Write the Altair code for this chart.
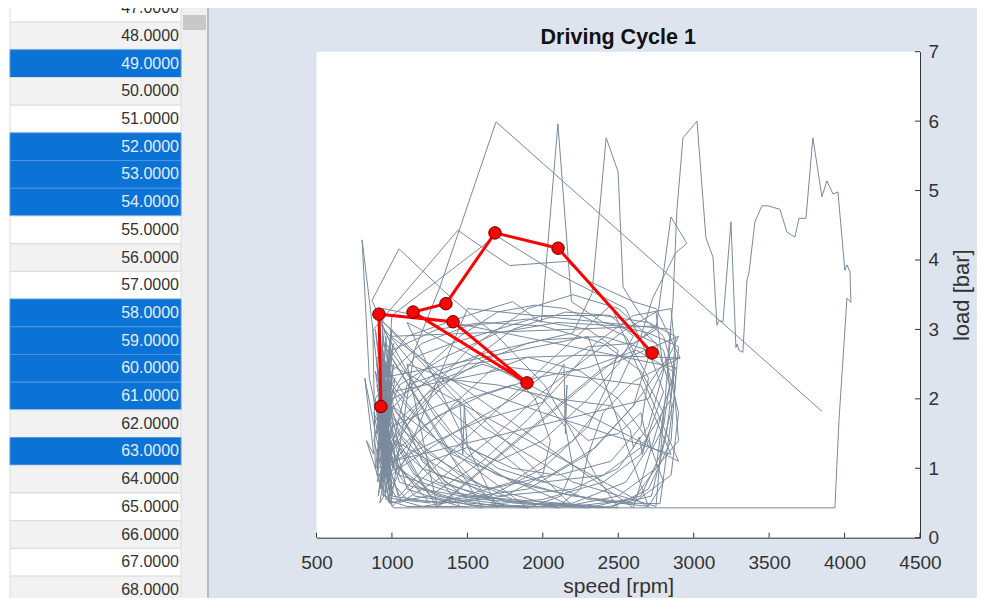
import altair as alt
import pandas as pd

# ---------------- data ----------------
table_rows = list(range(47, 69))
selected_rows = [49, 52, 53, 54, 58, 59, 60, 61, 63]

tick_speed = [500, 1000, 1500, 2000, 2500, 3000, 3500, 4000, 4500]
tick_load = [0, 1, 2, 3, 4, 5, 6, 7]

chart_title = "Driving Cycle 1"

# selected operating points (red)
red_speed = [927, 914, 1405, 1895, 1140, 1358, 1683, 2101, 2724]
red_load = [1.89, 3.22, 3.11, 2.23, 3.25, 3.37, 4.39, 4.17, 2.66]

# driving cycle trace (speed rpm, load bar)
trip_01 = [(960,0.6),(1010,0.43),(2500,0.43),(3936,0.43),(3963,1.69),(4016,3.45),(4042,3.39),(4036,3.83),
           (4016,3.93),(4002,3.85),(3956,4.98),(3923,4.95),(3883,5.14),(3850,4.91),(3790,5.76),(3744,4.60),
           (3698,4.60),(3671,4.33),(3618,4.40),(3572,4.73),(3492,4.78),(3452,4.78),(3406,4.55),(3366,3.81),
           (3353,3.71),(3326,2.67),(3300,2.70),(3287,2.79),(3280,2.74),(3247,4.55),(3194,3.11),(3167,3.13),
           (3154,3.06),(3128,4.04),(3081,4.32),(3022,6.00),(2929,5.76),(2889,4.72),(2863,3.42),(2830,2.60),
           (2600,1.90),(2300,1.20),(1900,0.70),(1400,0.55),(1050,0.80),(960,1.40),(930,0.70),(980,2.00),(920,1.10)]
trip_02 = [(1000,1.6),(1250,2.1),(1600,2.55),(1900,2.8),(2200,2.95),(2326,3.52),(2420,5.76),(2499,5.27),
           (2532,3.61),(2650,3.2),(2800,2.9),(2880,2.3),(2850,1.4),(2700,0.7),(2450,0.43),(2000,0.5),
           (1600,0.75),(1250,1.2),(1000,1.9),(940,1.2),(990,0.6),(910,1.6),(960,2.5),(900,0.9)]
trip_03 = [(1050,1.0),(1400,1.5),(1800,2.0),(2100,2.5),(2300,2.75),(2600,2.8),(2750,3.0),(2849,4.62),
           (2955,4.24),(2880,4.1),(2730,3.46),(2650,2.9),(2500,2.2),(2200,1.4),(1800,0.8),(1300,0.5),
           (1000,0.6),(950,1.3),(1020,2.3),(930,1.9),(985,0.9)]
trip_04 = [(874,2.99),(802,4.29),(850,2.3),(930,1.5),(990,2.8),(868,3.42),(1047,4.16),(1385,3.47),
           (1700,2.9),(2010,2.2),(2200,1.5),(2350,0.9),(2500,0.43),(2100,0.5),(1500,0.6),(1150,0.9),
           (980,1.5),(920,2.4)]
trip_05 = [(1100,2.9),(1500,3.2),(1800,3.4),(1990,3.1),(2100,5.96),(2190,3.4),(2400,3.1),(2700,2.95),
           (2900,2.75),(2870,2.0),(2780,1.2),(2650,0.6),(2300,0.43),(1800,0.5),(1300,0.8),(1050,1.3),
           (960,2.1),(890,1.0)]
trip_06 = [(874,2.99),(1438,4.43),(1520,4.3),(1780,3.92),(2160,3.98),(2300,3.7),(2600,3.4),(2750,3.3),
           (2910,2.59),(2823,2.56),(2856,1.79),(2777,0.49),(2500,0.5),(2100,0.65),(1700,0.9),(1300,1.4),
           (1000,2.2),(940,2.9),(910,1.7),(970,0.8)]
trip_07 = [(1050,0.5),(1350,0.9),(1700,1.5),(2000,2.1),(2300,2.6),(2550,3.0),(2750,3.25),(2800,2.4),
           (2700,1.6),(2500,1.0),(2200,0.7),(1700,0.6),(1200,1.0),(980,1.7),(900,2.5),(960,1.2)]
trip_08 = [(1000,2.7),(1300,3.0),(1600,3.1),(2000,3.05),(2400,2.8),(2650,2.4),(2800,1.8),(2750,1.0),
           (2600,0.55),(2200,0.45),(1600,0.55),(1200,0.7),(990,1.1),(930,2.0),(1000,3.0),(950,1.5)]
trip_09 = [(920,3.1),(1100,2.4),(1300,1.7),(1500,1.2),(1800,0.8),(2200,0.6),(2600,0.5),(2850,0.9),
           (2900,1.8),(2800,2.7),(2500,3.3),(2200,3.5),(1900,3.3),(1500,2.7),(1200,2.0),(1000,1.4),(920,0.7)]
trip_10 = [(980,1.8),(1250,2.5),(1450,2.9),(1700,3.25),(1950,3.35),(2150,3.3),(2350,3.1),(2550,2.9),
           (2700,2.3),(2650,1.6),(2450,1.1),(2100,0.9),(1800,1.0),(1500,1.3),(1250,1.1),(1050,0.6),
           (930,1.3),(990,2.6),(900,1.9)]
trip_11 = [(1000,0.9),(1400,1.9),(1650,2.4),(1900,2.6),(2250,2.4),(2500,2.0),(2700,1.4),(2800,0.8),
           (2700,0.45),(2300,0.55),(1900,0.9),(1400,1.8),(1100,2.6),(950,3.0),(920,2.2),(980,1.0)]
trip_12 = [(1200,1.6),(1500,2.0),(1800,2.2),(2000,2.0),(2150,1.6),(2200,1.0),(2120,0.6),(1900,0.43),
           (1500,0.5),(1150,0.75),(990,1.2),(940,2.7),(1010,1.9),(920,1.0)]
trip_13 = [(1100,1.2),(1600,1.7),(2000,1.95),(2140,2.5),(2150,1.5),(2160,2.2),(2145,1.7),(2300,1.4),
           (2500,1.5),(2650,1.8),(2700,1.3),(2550,0.8),(2200,0.5),(1700,0.45),(1300,0.6),(1050,1.0),(960,1.6)]
trip_14 = [(1000,2.0),(1300,2.3),(1700,2.2),(2100,2.0),(2450,1.9),(2580,1.55),(2600,1.3),(2640,1.45),
           (2660,1.2),(2700,1.5),(2720,1.25),(2800,1.6),(2840,2.2),(2750,2.8),(2500,3.05),(2100,3.1),
           (1700,2.95),(1350,2.6),(1050,2.2),(930,1.6)]
trip_15 = [(960,0.55),(1100,0.45),(1500,0.45),(2000,0.55),(2400,0.8),(2650,1.2),(2800,2.1),(2700,2.7),
           (2400,2.9),(2000,2.85),(1600,2.65),(1300,2.4),(1100,2.0),(950,2.5),(910,1.3)]
trip_16 = [(820,2.3),(880,1.2),(830,1.4),(950,0.6),(1200,0.45),(1650,0.6),(2000,1.0),(2300,1.6),
           (2450,2.3),(2500,2.7),(2300,3.0),(1900,3.15),(1500,3.05),(1200,2.8),(1000,2.4),(890,2.0)]
trip_17 = [(940,1.0),(1150,1.8),(1350,2.3),(1600,2.5),(1800,2.35),(1950,2.0),(2050,1.4),(2000,0.9),
           (1750,0.6),(1400,0.5),(1100,0.55),(960,0.9),(920,1.8),(1000,1.3)]
trip_18 = [(1100,2.2),(1500,2.5),(1900,2.6),(2313,2.63),(2910,2.59),(2780,2.45),(2600,2.25),(2400,1.8),
           (2300,1.2),(2250,0.7),(2100,0.45),(1600,0.45),(1150,0.6),(980,1.1),(920,2.9),(960,2.0)]
trip_19 = [(1000,3.2),(1300,3.7),(1690,4.35),(2100,3.8),(2550,3.3),(2700,2.6),(2600,1.9),(2350,1.3),
           (2050,0.9),(1650,0.7),(1300,0.9),(1050,1.5),(950,2.2),(900,1.5)]
trip_20 = [(960,2.8),(1150,2.2),(1400,1.5),(1700,1.0),(2000,0.8),(2400,0.9),(2650,1.3),(2850,2.0),
           (2880,2.9),(2700,3.1),(2400,3.2),(2000,3.2),(1700,3.0),(1400,2.8),(1150,2.6),(1000,2.1),(940,1.2)]
trip_21 = [(980,0.5),(1250,0.6),(1600,1.1),(1900,1.7),(2150,2.3),(2350,2.8),(2600,3.2),(2850,3.3),
           (2880,2.6),(2820,1.5),(2720,0.6),(2400,0.43),(1900,0.5),(1400,0.65),(1050,0.9),(950,1.7),
           (1010,2.5),(930,0.8)]
trip_22 = [(1000,1.6),(1300,1.9),(1450,2.0),(1470,1.2),(1480,1.9),(1500,1.3),(1700,1.1),(2000,1.4),
           (2300,2.0),(2500,2.5),(2600,2.9),(2450,3.2),(2150,3.25),(1800,3.0),(1500,2.5),(1250,2.0),
           (1050,1.5),(960,1.1)]
trip_23 = [(930,1.9),(1100,1.5),(1450,0.9),(1800,0.55),(2100,0.43),(2500,0.6),(2750,1.0),(2900,1.4),
           (2860,2.4),(2620,2.7),(2300,2.45),(1950,2.3),(1600,2.05),(1300,1.75),(1050,1.3),(940,0.6)]
trip_24 = [(970,1.4),(900,2.2),(990,1.7),(920,2.8),(980,2.2),(900,1.2),(1000,0.8),(920,0.5),(980,1.3),
           (940,2.0),(1010,1.0),(930,1.6)]
trip_25 = [(940,3.3),(2880,2.45),(2600,0.43),(990,2.9),(2750,3.05),(1300,0.43),(960,1.7)]
trip_26 = [(1000,0.45),(2450,3.35),(2900,1.1),(1100,3.1),(1700,0.43),(930,2.3),(2300,2.9),(2700,0.45)]
trip_27 = [(900,2.6),(960,0.9),(880,1.8),(1000,1.2),(890,3.0),(970,1.5),(910,0.6),(1000,2.3),(880,1.4),
           (990,0.5),(920,2.0),(1010,2.8),(900,1.0)]
trip_28 = [(950,2.4),(1200,1.1),(1500,0.55),(1900,0.43),(1000,1.9),(1350,0.8),(1750,0.45),(1020,1.4),
           (1250,0.6),(1600,0.43),(940,2.8),(1400,1.2),(2200,0.45)]
trip_29 = [(900,3.2),(1600,1.6),(2200,0.8),(2750,0.45),(2850,3.0),(1500,3.3),(1000,0.7),(950,2.0)]
trip_30 = [(990,2.1),(1800,2.45),(2650,2.2),(2850,1.2),(2000,1.8),(1100,2.5),(1300,0.45),(2400,2.45),
           (2900,2.9),(2700,2.0),(1000,1.1),(930,2.6)]
trip_31 = [(910,2.0),(980,0.7),(930,2.4),(1000,1.5),(905,0.8),(960,2.9),(1020,1.1),(915,1.5),(1050,0.55),
           (1250,0.5),(970,1.2),(890,2.4),(1100,0.7),(1450,0.45),(960,1.9),(1000,0.6)]
trip_32 = [(1150,2.7),(1318,3.61),(1690,5.99),(3850,1.82)]

trips = [trip_01, trip_02, trip_03, trip_04, trip_05, trip_06, trip_07, trip_08, trip_09, trip_10,
         trip_11, trip_12, trip_13, trip_14, trip_15, trip_16, trip_17, trip_18, trip_19, trip_20,
         trip_21, trip_22, trip_23, trip_24, trip_25, trip_26, trip_27, trip_28, trip_29, trip_30,
         trip_31, trip_32]

# ---------------- tables ----------------
trace_rows = []
for trip in trips:
    for s, l in trip:
        trace_rows.append({"i": len(trace_rows), "speed": s, "load": l})
df_trace = pd.DataFrame(trace_rows)
df_red = pd.DataFrame({"i": range(len(red_speed)), "speed": red_speed, "load": red_load})
df_xt = pd.DataFrame({"speed": tick_speed})
df_yt = pd.DataFrame({"load": tick_load})

df_tab = pd.DataFrame({
    "row": table_rows,
    "label": [f"{r:.4f}" for r in table_rows],
    "bg": ["#0b72d6" if r in selected_rows else ("#f2f2f2" if r % 2 == 0 else "#ffffff") for r in table_rows],
    "fg": ["#e4eefa" if r in selected_rows else "#333333" for r in table_rows],
    "edge": ["#4d95e0" if r in selected_rows else "#dcdcdc" for r in table_rows],
})
df_one = pd.DataFrame({"k": [0]})
df_title = pd.DataFrame({"t": [chart_title]})

# ---------------- geometry ----------------
W, H = 603.5, 486
PL, PT = 308.5, 43.7
TOTAL_W, TOTAL_H = 969, 590
FONT = "Liberation Sans"
AX = "#333333"

xs = alt.Scale(domain=[500, 4500], nice=False, zero=False)
ys = alt.Scale(domain=[0, 7], nice=False, zero=False)
xaxis = alt.Axis(values=tick_speed, format="d", ticks=False, grid=False, domainColor=AX,
                 labelColor=AX, labelFont=FONT, labelFontSize=19, labelPadding=16,
                 labelFlush=False, labelOverlap=False, title="speed [rpm]", titleFont=FONT,
                 titleFontSize=21, titleFontWeight="normal", titleColor=AX, titlePadding=3)
yaxis = alt.Axis(orient="right", values=tick_load, format="d", ticks=False, grid=False,
                 domainColor=AX, labelColor=AX, labelFont=FONT, labelFontSize=19, labelPadding=8,
                 labelFlush=False, title="load [bar]", titleFont=FONT, titleFontSize=22,
                 titleFontWeight="normal", titleColor=AX, titleAngle=270, titleBaseline="top",
                 titlePadding=13)
X = alt.X("speed:Q", scale=xs, axis=xaxis)
Y = alt.Y("load:Q", scale=ys, axis=yaxis)

trace = alt.Chart(df_trace).mark_line(color="#7a8a9c", strokeWidth=1).encode(
    x=X, y=Y, order="i:Q")
red_line = alt.Chart(df_red).mark_line(color="#ff0000", strokeWidth=3).encode(
    x=X, y=Y, order="i:Q")
red_pts = alt.Chart(df_red).mark_point(filled=True, shape="circle", size=155, fill="#ff0000",
                                       stroke="#5a0000", strokeWidth=1, opacity=1).encode(x=X, y=Y)
xticks = alt.Chart(df_xt).mark_rule(color=AX, strokeWidth=1).encode(
    x=X, y=alt.value(H), y2=alt.value(H - 5))
yticks = alt.Chart(df_yt).mark_rule(color=AX, strokeWidth=1).encode(
    y=Y, x=alt.value(W), x2=alt.value(W - 5))

main = alt.layer(trace, red_line, red_pts, xticks, yticks)

# ---------------- left table + title ----------------
rs = alt.Scale(domain=table_rows, range=[-57.3, 552.1], paddingInner=0, paddingOuter=0)
RY = alt.Y("row:O", scale=rs, axis=None)
row_rect = alt.Chart(df_tab).mark_rect(strokeWidth=1).encode(
    y=RY, x=alt.value(-306.5), x2=alt.value(-135.5),
    fill=alt.Fill("bg:N", scale=None), stroke=alt.Stroke("edge:N", scale=None))
row_text = alt.Chart(df_tab).mark_text(align="right", baseline="middle", font=FONT, fontSize=16).encode(
    y=RY, x=alt.value(-137.5), text="label:N", color=alt.Color("fg:N", scale=None))
page_edge = alt.Chart(df_one).mark_rect(fill="#ffffff").encode(
    x=alt.value(-PL), x2=alt.value(-306.5), y=alt.value(-PT), y2=alt.value(TOTAL_H - PT))
track = alt.Chart(df_one).mark_rect(fill="#efefef").encode(
    x=alt.value(-135.5), x2=alt.value(-109.5), y=alt.value(-PT), y2=alt.value(TOTAL_H - PT))
thumb = alt.Chart(df_one).mark_rect(fill="#c8c8c8").encode(
    x=alt.value(-133.5), x2=alt.value(-110.5), y=alt.value(-36.7), y2=alt.value(-21.7))
sep = alt.Chart(df_one).mark_rule(color="#a9adb3", strokeWidth=1.5).encode(
    x=alt.value(-108.5), y=alt.value(-PT), y2=alt.value(TOTAL_H - PT))
title_mark = alt.Chart(df_title).mark_text(font=FONT, fontSize=21.5, fontWeight="bold", color="#111111",
                                           align="center", baseline="alphabetic").encode(
    x=alt.value(W / 2), y=alt.value(-8), text="t:N")

table = alt.layer(page_edge, track, thumb, sep, row_rect, row_text, title_mark)

chart = alt.layer(table, main).resolve_scale(y="independent").properties(
    width=W, height=H,
    padding={"left": PL, "top": PT, "right": TOTAL_W - PL - W, "bottom": TOTAL_H - PT - H},
    autosize=alt.AutoSizeParams(type="none"),
).configure(background="#dee4ee").configure_view(fill="#ffffff", stroke=None)

chart.save("out.html", embed_options={"renderer": "svg", "actions": False})
